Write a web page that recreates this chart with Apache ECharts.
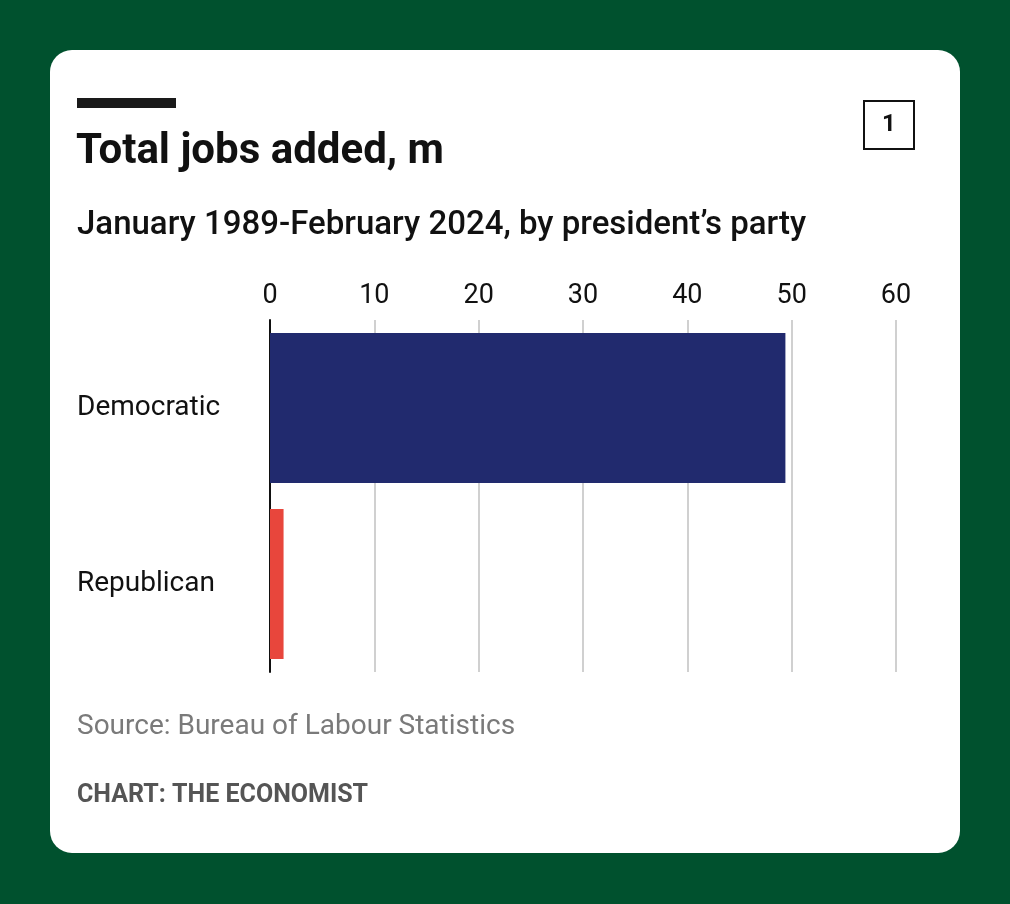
<!DOCTYPE html>
<html lang="en">
<head>
<meta charset="UTF-8">
<title>Total jobs added</title>
<script src="https://cdn.jsdelivr.net/npm/echarts@6/dist/echarts.min.js"></script>
<style>
  html, body { margin: 0; padding: 0; background: #00512e; }
  #main { width: 1010px; height: 904px; }
</style>
</head>
<body>
<div id="main"></div>
<script>
// data
var parties = ['Democratic', 'Republican'];
var jobsAdded = [49.4, 1.3];
var barColors = ['#212a6e', '#e8463c'];
var xTicks = [0, 60, 10]; // min, max, interval

var chart = echarts.init(document.getElementById('main'));
var font = 'Roboto, "Liberation Sans", sans-serif';

chart.setOption({
    backgroundColor: '#00512e',
    animation: false,
    grid: { left: 270, right: 114, top: 320, bottom: 232 },
    xAxis: {
        type: 'value',
        position: 'top',
        min: xTicks[0], max: xTicks[1], interval: xTicks[2],
        axisLine: { show: false },
        axisTick: { show: false },
        axisLabel: { color: '#111', fontSize: 27, fontFamily: font, margin: 10 },
        splitLine: { lineStyle: { color: '#d0d0d0', width: 2 } }
    },
    yAxis: {
        type: 'category',
        data: parties,
        inverse: true,
        axisLine: { lineStyle: { color: '#111', width: 2 } },
        axisTick: { show: false },
        axisLabel: { color: '#111', fontSize: 28, fontFamily: font, align: 'left', margin: 193 }
    },
    series: [{
        type: 'bar',
        barCategoryGap: '14.8%',
        data: jobsAdded.map(function (v, i) {
            return { value: v, itemStyle: { color: barColors[i] } };
        }),
        z: 1
    }],
    graphic: [
        { type: 'rect', z: -10, shape: { x: 50, y: 50, width: 910, height: 803, r: 22 },
          style: { fill: '#ffffff' } },
        { type: 'rect', shape: { x: 77, y: 98, width: 99, height: 10 }, style: { fill: '#1a1a1a' } },
        { type: 'rect', shape: { x: 864, y: 101, width: 50, height: 48 },
          style: { fill: 'none', stroke: '#111', lineWidth: 2 } },
        { type: 'text', x: 889, y: 125, style: { text: '1', fill: '#111', font: 'bold 24px ' + font,
          textAlign: 'center', textVerticalAlign: 'middle' } },
        { type: 'text', x: 76, y: 152, style: { text: 'Total jobs added, m', fill: '#111',
          font: 'bold 42px ' + font, textVerticalAlign: 'middle' } },
        { type: 'text', x: 77, y: 226, style: { text: 'January 1989-February 2024, by president\u2019s party',
          fill: '#111', font: '500 33px ' + font, textVerticalAlign: 'middle' } },
        { type: 'text', x: 77, y: 727, style: { text: 'Source: Bureau of Labour Statistics',
          fill: '#7a7a7a', font: '28px ' + font, textVerticalAlign: 'middle' } },
        { type: 'text', x: 77, y: 796, style: { text: 'CHART: THE ECONOMIST',
          fill: '#555', font: 'bold 25px ' + font, textVerticalAlign: 'middle' } }
    ]
});
</script>
</body>
</html>
